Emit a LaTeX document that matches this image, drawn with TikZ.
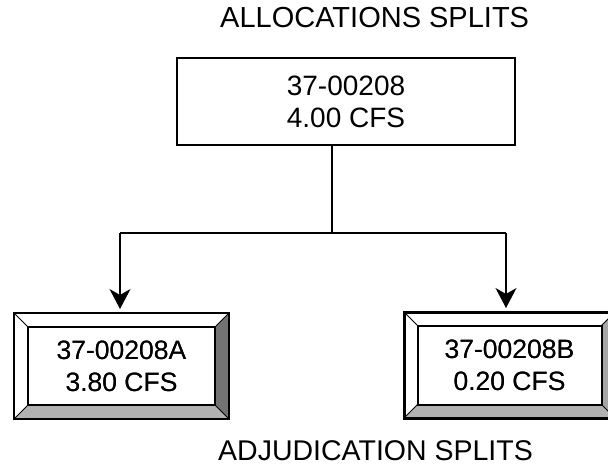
\documentclass[tikz,border=0pt]{standalone}
\usepackage{fontspec}
\setmainfont{Liberation Sans}
\usetikzlibrary{arrows.meta,calc}

\tikzset{
  title/.style={anchor=base west, inner sep=0pt, font=\fontsize{29}{34}\selectfont},
  plainbox/.style={draw, line width=1.1pt, outer sep=0pt, align=center,
    minimum width=338pt, minimum height=87pt, inner sep=0pt,
    font=\fontsize{28}{32}\selectfont},
  bevelbox/.style={outer sep=0pt, align=center, inner sep=0pt,
    minimum width=#1, minimum height=106pt,
    font=\fontsize{26.5}{32}\selectfont},
  link/.style={line width=1.1pt},
  arrowlink/.style={link, -{Stealth[length=20pt,width=21pt,inset=6pt]}, shorten >=4pt},
  lightface/.style={fill=black!30},
}

% bevelled frame around a named node: #1 node, #2 bevel depth,
% #3 outer line width, #4 inner line width, #5 shade of the right face
\newcommand{\bevelframe}[5]{%
  \coordinate (#1-inw) at ($(#1.north west)+(#2,#2)$);
  \coordinate (#1-ine) at ($(#1.north east)+(-#2,#2)$);
  \coordinate (#1-ise) at ($(#1.south east)+(-#2,-#2)$);
  \coordinate (#1-isw) at ($(#1.south west)+(#2,-#2)$);
  \fill[black!#5] (#1.north east) -- (#1.south east) -- (#1-ise) -- (#1-ine) -- cycle;
  \fill[lightface] (#1.south west) -- (#1.south east) -- (#1-ise) -- (#1-isw) -- cycle;
  \draw[line width=1pt] (#1.north west) -- (#1-inw) (#1.north east) -- (#1-ine)
    (#1.south east) -- (#1-ise) (#1.south west) -- (#1-isw);
  \draw[line width=#4] (#1-inw) rectangle (#1-ise);
  \draw[line width=#3] (#1.north west) rectangle (#1.south east);
}

\begin{document}
\begin{tikzpicture}[x=1pt,y=-1pt]
\begin{scope}
  \clip (0,0) rectangle (608,468);

  % headings
  \node[title] (htop) at (220,28) {ALLOCATIONS SPLITS};
  \node[title, font=\fontsize{28.5}{34}\selectfont] (hbot) at (218,460) {ADJUDICATION SPLITS};

  % allocation record
  \node[plainbox] (t) at (346,101.5) {37-00208\\4.00 CFS};

  % adjudication records
  \node[bevelbox=215pt] (a) at (121.5,366) {37-00208A\\3.80 CFS};
  \node[bevelbox=211pt] (b) at (509.5,365) {37-00208B\\0.20 CFS};
  \bevelframe{a}{14}{1.1pt}{1.2pt}{55}
  \bevelframe{b}{13.5}{3pt}{2pt}{35}
  \node[bevelbox=215pt] at (a) {37-00208A\\3.80 CFS};
  \node[bevelbox=211pt] at (b) {37-00208B\\0.20 CFS};

  % split connectors
  \coordinate (j) at (332,233);
  \coordinate (la) at (120,233);
  \coordinate (ra) at (506,233);
  \draw[link] (t.south -| j) -- (j);
  \draw[link] (la) -- (ra);
  \draw[arrowlink] (la) -- (la |- a.north);
  \draw[arrowlink] (ra) -- (ra |- b.north);
\end{scope}
\pgfresetboundingbox
\useasboundingbox (0,0) rectangle (608,468);
\end{tikzpicture}
\end{document}
